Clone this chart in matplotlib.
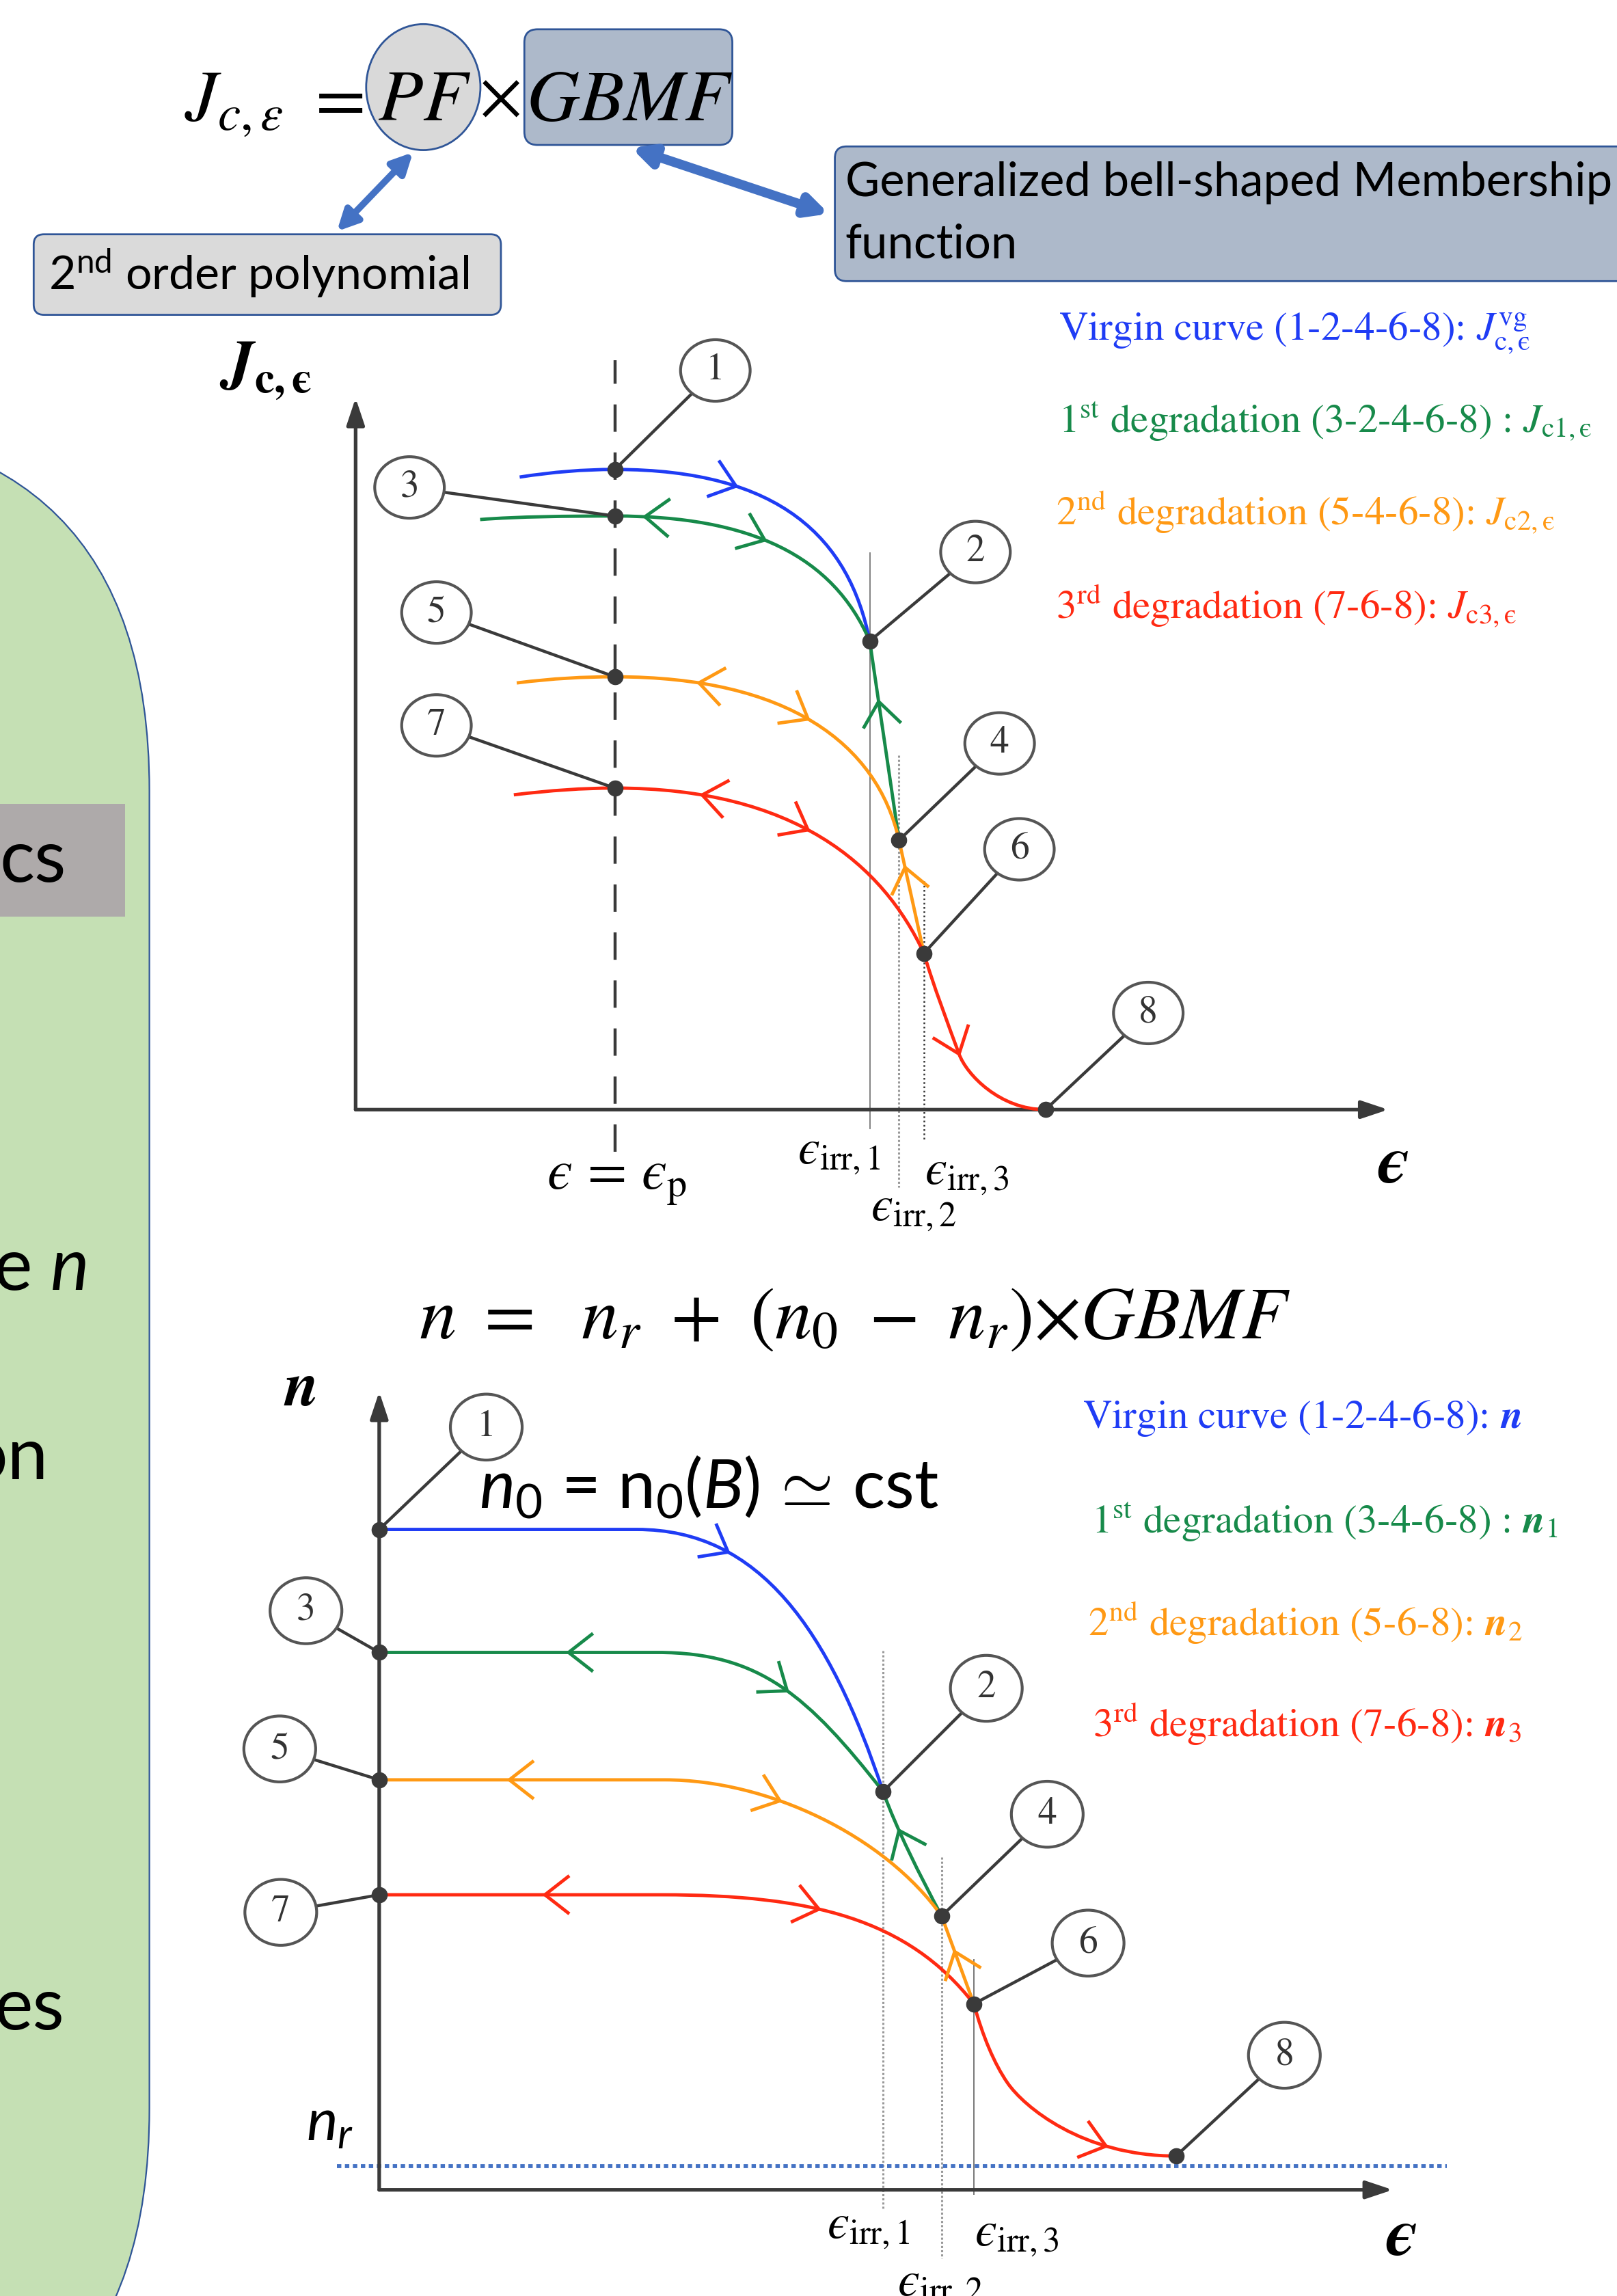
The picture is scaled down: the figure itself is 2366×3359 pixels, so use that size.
import numpy as np
import matplotlib.pyplot as plt
from matplotlib.path import Path
from matplotlib.patches import PathPatch, Ellipse, FancyBboxPatch, FancyArrowPatch, Rectangle

plt.rcParams['font.family'] = ['STIXGeneral', 'DejaVu Serif']
plt.rcParams['mathtext.fontset'] = 'stix'
# the slide text (Calibri-like) goes through the custom math set
plt.rcParams['mathtext.rm'] = 'Lato'
plt.rcParams['mathtext.it'] = 'Lato:italic'
plt.rcParams['mathtext.bf'] = 'Lato:bold'

PAGE_W, PAGE_H = 1104, 1568
SANS = ['Lato', 'DejaVu Sans']

BLUE, GREEN, ORANGE, RED = '#1f3cf5', '#178a4a', '#ff9914', '#ff2a12'
INK = '#3a3a3a'
SLIDE_BLUE = '#2f5597'
ARROW_BLUE = '#4472c4'
LW = 3.5

# ---------------- upper chart: J_c versus strain ----------------
# cubic Bezier vertices (eps, Jc): start, ctrl, ctrl, knot, ctrl, ctrl, knot ...
eps_p = 1.77
jc_eps_irr = [3.51, 3.71, 3.88]

jc_virgin_x = [1.12, 1.35, 1.55, 1.77, 2.90, 3.37, 3.51]
jc_virgin_y = [4.32, 4.355, 4.372, 4.372, 4.372, 3.90, 3.20]

jc_first_x = [0.85, 1.10, 1.45, 1.77, 2.70, 3.26, 3.51, 3.577, 3.643, 3.71]
jc_first_y = [4.03, 4.05, 4.054, 4.054, 4.054, 3.78, 3.20, 2.747, 2.293, 1.84]

jc_second_x = [1.10, 1.35, 1.55, 1.77, 2.95, 3.56, 3.71, 3.767, 3.823, 3.88]
jc_second_y = [2.914, 2.945, 2.956, 2.956, 2.956, 2.50, 1.84, 1.583, 1.326, 1.068]

jc_third_x = [1.08, 1.33, 1.55, 1.77, 3.00, 3.60, 3.88, 3.94, 4.05, 4.12, 4.17, 4.40, 4.71]
jc_third_y = [2.15, 2.18, 2.196, 2.196, 2.196, 1.67, 1.068, 0.86, 0.57, 0.38, 0.24, 0.0, 0.0]

# numbered states 1..8
jc_pts_x = [1.77, 3.51, 1.77, 3.71, 1.77, 3.88, 1.77, 4.71]
jc_pts_y = [4.372, 3.20, 4.054, 1.84, 2.956, 1.068, 2.196, 0.0]

# ---------------- lower chart: n-value versus strain ----------------
n_r = 0.16
n_eps_irr = [3.44, 3.84, 4.06]

n_virgin_x = [0.0, 0.6, 1.2, 1.76, 2.60, 3.074, 3.44]
n_virgin_y = [4.51, 4.51, 4.51, 4.51, 4.51, 3.82, 2.72]

n_first_x = [0.0, 0.65, 1.3, 1.90, 2.60, 2.93, 3.44, 3.53, 3.69, 3.84]
n_first_y = [3.67, 3.67, 3.67, 3.67, 3.67, 3.37, 2.72, 2.47, 2.15, 1.87]

n_second_x = [0.0, 0.65, 1.3, 1.95, 2.65, 3.45, 3.84, 3.913, 3.987, 4.06]
n_second_y = [2.80, 2.80, 2.80, 2.80, 2.80, 2.42, 1.87, 1.67, 1.47, 1.27]

n_third_x = [0.0, 0.65, 1.3, 1.93, 2.95, 3.61, 4.06, 4.12, 4.20, 4.29, 4.40, 4.80, 5.44]
n_third_y = [2.015, 2.015, 2.015, 2.015, 2.015, 1.85, 1.27, 1.05, 0.86, 0.73, 0.57, 0.231, 0.231]

n_pts_x = [0.0, 3.44, 0.0, 3.84, 0.0, 4.06, 0.0, 5.44]
n_pts_y = [4.51, 2.72, 3.67, 1.87, 2.80, 1.27, 2.015, 0.231]


def bezier_points(xs, ys, n=80):
    pts = np.column_stack([xs, ys])
    t = np.linspace(0, 1, n)[:, None]
    out = []
    for i in range(0, len(pts) - 1, 3):
        p0, c1, c2, p3 = pts[i:i + 4]
        out.append((1 - t) ** 3 * p0 + 3 * (1 - t) ** 2 * t * c1
                   + 3 * (1 - t) * t ** 2 * c2 + t ** 3 * p3)
    return np.vstack(out)


def draw_curve(ax, xs, ys, color):
    verts = np.column_stack([xs, ys])
    codes = [Path.MOVETO] + [Path.CURVE4] * (len(verts) - 1)
    ax.add_patch(PathPatch(Path(verts, codes), fill=False, ec=color, lw=LW,
                           capstyle='butt', zorder=3))


def chevron(ax, xs, ys, at, sign, color, size=0.2, spread=38):
    pts = bezier_points(xs, ys)
    i = int(np.argmin(np.abs(pts[:, 0] - at)))
    i = min(max(i, 1), len(pts) - 2)
    d = (pts[i + 1] - pts[i - 1]) * sign
    d = d / np.hypot(*d)
    tip = pts[i]
    ends = []
    for a in (spread, -spread):
        r = np.radians(180 + a)
        rot = np.array([[np.cos(r), -np.sin(r)], [np.sin(r), np.cos(r)]])
        ends.append(tip + size * rot @ d)
    ax.plot([ends[0][0], tip[0], ends[1][0]], [ends[0][1], tip[1], ends[1][1]],
            color=color, lw=LW, solid_joinstyle='miter', zorder=3)


def tags(ax, px, py, tx, ty, w, h):
    for k, (x, y, cx, cy) in enumerate(zip(px, py, tx, ty), start=1):
        dx, dy = x - cx, y - cy
        s = 1 / np.hypot(dx / (w / 2), dy / (h / 2))
        ax.plot([x, cx + s * dx], [y, cy + s * dy], color=INK, lw=3.2, zorder=4)
        ax.add_patch(Ellipse((cx, cy), w, h, fc='white', ec='#555555', lw=3.0, zorder=5))
        ax.text(cx, cy, str(k), ha='center', va='center', fontsize=40,
                color='#333333', zorder=6)
    ax.plot(px, py, 'o', ms=16, color=INK, zorder=6)


def axis_arrows(ax, xmax, ymax):
    for tip in [(xmax, 0), (0, ymax)]:
        ax.add_patch(FancyArrowPatch((0, 0), tip, arrowstyle='-|>,head_length=24,head_width=8',
                                     mutation_scale=1, lw=3.8, color=INK,
                                     shrinkA=0, shrinkB=0, zorder=2))


def chart_axes(x0, y0, top):
    # origin at page point (x0, y0); one data unit = 100 page units on both axes
    ax = fig.add_axes([(x0 - 150) / PAGE_W, 1 - (y0 + 100) / PAGE_H,
                       900 / PAGE_W, (100 + top * 100) / PAGE_H])
    ax.set_xlim(-1.5, 7.5)
    ax.set_ylim(-1, top)
    ax.axis('off')
    return ax


fig = plt.figure(figsize=(23.66, 33.59), dpi=100)
page = fig.add_axes([0, 0, 1, 1])
page.set_xlim(0, PAGE_W)
page.set_ylim(PAGE_H, 0)
page.axis('off')

# ---- slide background: green side panel ----
page.add_patch(FancyBboxPatch((-700, 290), 802, 1400, boxstyle='round,pad=0,rounding_size=250',
                              fc='#c5e0b4', ec=SLIDE_BLUE, lw=1.6, zorder=0))
page.add_patch(Rectangle((-5, 549), 90.6, 77, fc='#aeaaaa', ec='none', zorder=1))
for txt, x, y in [('cs', 45, 602), ('e $n$', 59, 881), ('on', 33, 1010), ('es', 44, 1386)]:
    page.text(x, y, txt, ha='right', va='baseline', fontsize=77, family=SANS,
              math_fontfamily='custom', zorder=2)

# ---- model equation for J_c ----
page.add_patch(Ellipse((289, 59.5), 78, 86, fc='#d9d9d9', ec=SLIDE_BLUE, lw=2))
page.add_patch(FancyBboxPatch((358, 20), 142, 79, boxstyle='round,pad=0,rounding_size=9',
                              fc='#adb9ca', ec=SLIDE_BLUE, lw=2))
page.text(126, 82, r'$J_{c,ε}$', fontsize=77, ha='left', va='baseline')
page.text(228, 82, r'$=$', fontsize=77, ha='center', va='baseline')
page.text(290, 82, r'$PF$', fontsize=77, ha='center', va='baseline')
page.text(341, 68, r'$\times$', fontsize=70, ha='center', va='center')
page.text(430, 82, r'$GBMF$', fontsize=77, ha='center', va='baseline')

page.add_patch(FancyBboxPatch((23, 160), 319, 55, boxstyle='round,pad=0,rounding_size=7',
                              fc='#dadada', ec=SLIDE_BLUE, lw=2))
page.text(33, 198, r'2$^{\rm nd}$ order polynomial', fontsize=49, family=SANS,
          math_fontfamily='custom', va='baseline')
page.add_patch(FancyBboxPatch((570, 100), 560, 92, boxstyle='round,pad=0,rounding_size=8',
                              fc='#adb9ca', ec=SLIDE_BLUE, lw=2))
page.text(577, 134, 'Generalized bell-shaped Membership', fontsize=49.5, family=SANS, va='baseline')
page.text(577, 176, 'function', fontsize=49.5, family=SANS, va='baseline')

for a, b, lw in [((282, 104), (230, 158), 7), ((431, 101), (566, 146), 10)]:
    page.add_patch(FancyArrowPatch(a, b, arrowstyle='<|-|>,head_length=18,head_width=9',
                                   mutation_scale=1, lw=lw, color=ARROW_BLUE,
                                   shrinkA=0, shrinkB=0))

# ---- upper chart ----
ax1 = chart_axes(242.8, 757.8, 5.5)
ax1.plot([eps_p, eps_p], [-0.29, 5.12], color=INK, lw=3.2, ls=(0, (9, 6.8)), zorder=1)
ax1.plot([jc_eps_irr[0]] * 2, [3.80, -0.13], color='#777777', lw=1.3, zorder=1)
ax1.plot([jc_eps_irr[1]] * 2, [2.42, -0.53], color='#999999', lw=2.2, ls=(0, (1, 1)), zorder=1)
ax1.plot([jc_eps_irr[2]] * 2, [1.56, -0.21], color='#333333', lw=1.8, ls=(0, (1, 1.5)), zorder=1)
axis_arrows(ax1, 7.05, 4.86)

jc_curves = [(jc_virgin_x, jc_virgin_y, BLUE), (jc_first_x, jc_first_y, GREEN),
             (jc_second_x, jc_second_y, ORANGE), (jc_third_x, jc_third_y, RED)]
for xs, ys, c in jc_curves:
    draw_curve(ax1, xs, ys, c)
jc_arrows = [(0, 2.60, 1), (1, 1.98, -1), (1, 2.79, 1), (1, 3.57, -1),
             (2, 2.36, -1), (2, 3.09, 1), (2, 3.75, -1),
             (3, 2.36, -1), (3, 3.09, 1), (3, 4.12, 1)]
for k, at, sign in jc_arrows:
    xs, ys, c = jc_curves[k]
    chevron(ax1, xs, ys, at, sign, c)
tags(ax1, jc_pts_x, jc_pts_y,
     [2.456, 4.232, 0.368, 4.397, 0.552, 4.532, 0.552, 5.412],
     [5.048, 3.808, 4.249, 2.501, 3.395, 1.778, 2.624, 0.66], 0.475, 0.42)

page.text(150, 262, r'$\mathbfit{J}_{\mathbf{c,ϵ}}$', fontsize=66, va='baseline')
page.text(951, 797, r'$\mathbfit{ϵ}$', fontsize=72, ha='center', va='center')
page.text(421, 807, r'$ϵ\,=\,ϵ_{\rm p}$', fontsize=60, ha='center', va='center')
for lab, x, y in [('1', 573, 788), ('2', 624, 827), ('3', 660, 802)]:
    page.text(x, y, r'$ϵ_{\rm irr,%s}$' % lab, fontsize=52, ha='center', va='center')

legend_top = [(r'Virgin curve (1-2-4-6-8): $J^{\rm vg}_{\rm c,ϵ}$', 723, 232, BLUE),
              (r'1$^{\rm st}$ degradation (3-2-4-6-8) : $J_{\rm c1,ϵ}$', 723, 295, GREEN),
              (r'2$^{\rm nd}$ degradation (5-4-6-8): $J_{\rm c2,ϵ}$', 721, 358, ORANGE),
              (r'3$^{\rm rd}$ degradation (7-6-8): $J_{\rm c3,ϵ}$', 721, 422, RED)]
for txt, x, y, c in legend_top:
    page.text(x, y, txt, fontsize=42.5, color=c, va='baseline')

# ---- n-value equation ----
page.text(286, 914, r'$n\ =\ \ n_r\ +\ (n_0\ -\ n_r){\times}GBMF$', fontsize=78, va='baseline')
page.text(327, 1030, r'$n_0$ = n$_0$($B$)$\,\simeq\,$cst', fontsize=71, family=SANS,
          math_fontfamily='custom', va='baseline')

# ---- lower chart ----
ax2 = chart_axes(258.9, 1495.5, 6.0)
ax2.plot([-0.29, 7.29], [n_r, n_r], color=ARROW_BLUE, lw=4.2, ls=(0, (1.1, 0.9)), zorder=2)
ax2.plot([n_eps_irr[0]] * 2, [3.68, -0.13], color='#999999', lw=2.2, ls=(0, (1, 1)), zorder=1)
ax2.plot([n_eps_irr[1]] * 2, [2.27, -0.47], color='#999999', lw=2.2, ls=(0, (1, 1)), zorder=1)
ax2.plot([n_eps_irr[2]] * 2, [1.57, -0.03], color='#777777', lw=1.4, zorder=1)
axis_arrows(ax2, 6.92, 5.45)

n_curves = [(n_virgin_x, n_virgin_y, BLUE), (n_first_x, n_first_y, GREEN),
            (n_second_x, n_second_y, ORANGE), (n_third_x, n_third_y, RED)]
for xs, ys, c in n_curves:
    draw_curve(ax2, xs, ys, c)
n_arrows = [(0, 2.38, 1), (1, 1.29, -1), (1, 2.79, 1), (1, 3.55, -1),
            (2, 0.88, -1), (2, 2.73, 1), (2, 3.93, -1),
            (3, 1.12, -1), (3, 2.99, 1), (3, 4.97, 1)]
for k, at, sign in n_arrows:
    xs, ys, c = n_curves[k]
    chevron(ax2, xs, ys, at, sign, c)
tags(ax2, n_pts_x, n_pts_y,
     [0.731, 4.145, -0.50, 4.561, -0.679, 4.84, -0.672, 6.18],
     [5.209, 3.425, 3.955, 2.565, 3.011, 1.685, 1.895, 0.919], 0.49, 0.45)

page.text(205, 950, r'$\mathbfit{n}$', fontsize=66, ha='center', va='center')
page.text(225, 1452, r'$n_r$', fontsize=62, ha='center', va='center', math_fontfamily='custom')
page.text(957, 1529, r'$\mathbfit{ϵ}$', fontsize=72, ha='center', va='center')
for lab, x, y in [('1', 593, 1522), ('2', 642, 1561), ('3', 694, 1527)]:
    page.text(x, y, r'$ϵ_{\rm irr,%s}$' % lab, fontsize=52, ha='center', va='center')

legend_bot = [(r'Virgin curve (1-2-4-6-8): $\mathbfit{n}$', 739, 975, BLUE),
              (r'1$^{\rm st}$ degradation (3-4-6-8) : $\mathbfit{n}_{1}$', 745, 1047, GREEN),
              (r'2$^{\rm nd}$ degradation (5-6-8): $\mathbfit{n}_{2}$', 743, 1117, ORANGE),
              (r'3$^{\rm rd}$ degradation (7-6-8): $\mathbfit{n}_{3}$', 746, 1186, RED)]
for txt, x, y, c in legend_bot:
    page.text(x, y, txt, fontsize=42.5, color=c, va='baseline')

fig.savefig('out.png', dpi=100)
